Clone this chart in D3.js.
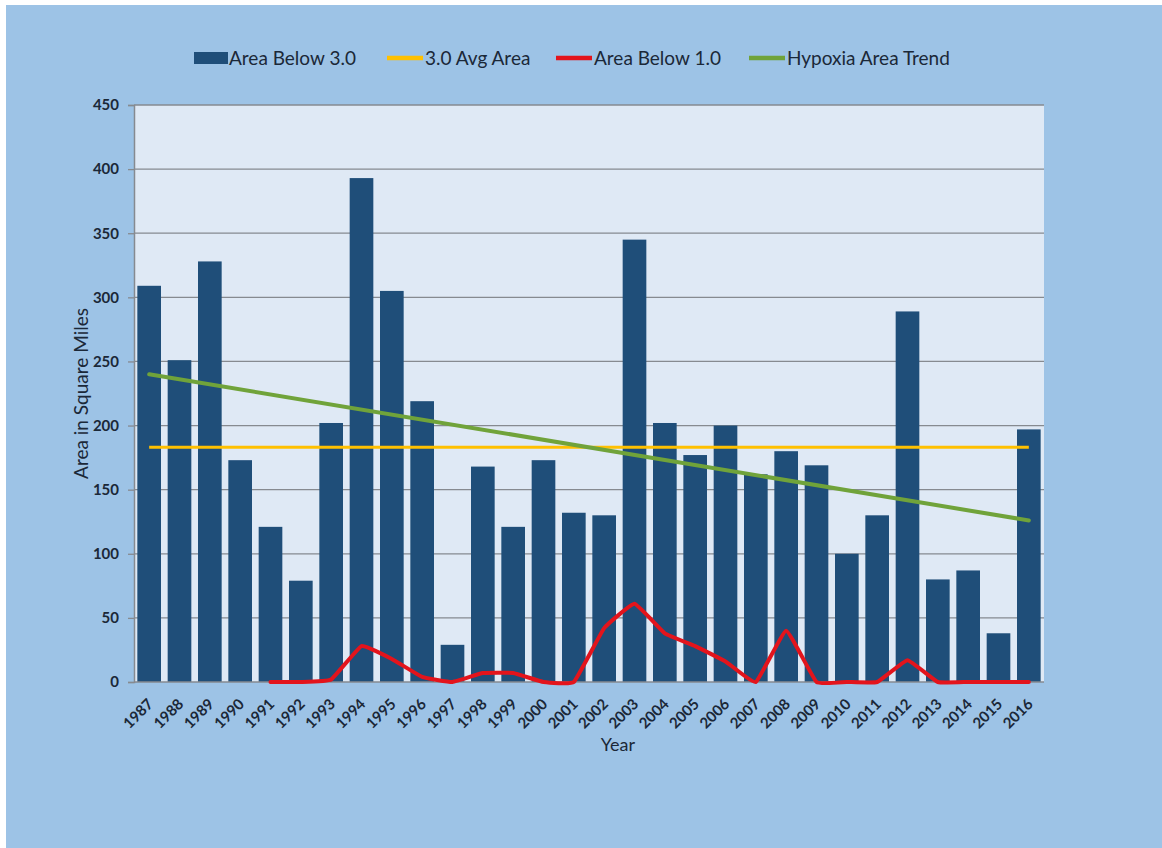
<!DOCTYPE html>
<html>
<head>
<meta charset="utf-8">
<script src="https://cdn.jsdelivr.net/npm/d3@7/dist/d3.min.js"></script>
<style>
  html, body { margin: 0; padding: 0; background: #ffffff; }
  svg { display: block; }
  text { font-family: Lato, "Open Sans", Arial, sans-serif; fill: #1b2838; }
</style>
</head>
<body>
<svg id="chart" width="1162" height="848"></svg>
<script>
// Hypoxia area by year (square miles)
const years = [1987, 1988, 1989, 1990, 1991, 1992, 1993, 1994, 1995, 1996,
               1997, 1998, 1999, 2000, 2001, 2002, 2003, 2004, 2005, 2006,
               2007, 2008, 2009, 2010, 2011, 2012, 2013, 2014, 2015, 2016];
const areaBelow3 = [309, 251, 328, 173, 121, 79, 202, 393, 305, 219,
                    29, 168, 121, 173, 132, 130, 345, 202, 177, 200,
                    162, 180, 169, 100, 130, 289, 80, 87, 38, 197];
// Area below 1.0 is recorded from 1991 onward
const below1Years = [1991, 1992, 1993, 1994, 1995, 1996, 1997, 1998, 1999, 2000,
                     2001, 2002, 2003, 2004, 2005, 2006, 2007, 2008, 2009, 2010,
                     2011, 2012, 2013, 2014, 2015, 2016];
const areaBelow1 = [0, 0, 2, 28, 18, 4, 0, 7, 7, 0,
                    0, 42, 61, 38, 28, 16, 0, 40, 0, 0,
                    0, 17, 0, 0, 0, 0];
const avgArea = 183;
const trendYears = [1987, 2016];
const trendValues = [240, 126];
const yTicks = [0, 50, 100, 150, 200, 250, 300, 350, 400, 450];

const legendItems = [
  { label: "Area Below 3.0", type: "rect", color: "#1f4e79" },
  { label: "3.0 Avg Area", type: "line", color: "#ffc000" },
  { label: "Area Below 1.0", type: "line", color: "#e3141c" },
  { label: "Hypoxia Area Trend", type: "line", color: "#70a33a" }
];

const svg = d3.select("#chart");

// Page background with the thin white margin on top and left
svg.append("rect").attr("x", 6).attr("y", 5).attr("width", 1156).attr("height", 843)
  .attr("fill", "#9dc3e6");

const plot = { left: 134, right: 1044, top: 105, bottom: 682 };

const x = d3.scaleBand().domain(years).range([plot.left, plot.right])
  .paddingInner(0.22).paddingOuter(0.11);
const y = d3.scaleLinear().domain([0, 450]).range([plot.bottom, plot.top]);
const cx = yr => x(yr) + x.bandwidth() / 2;

// Plot area
svg.append("rect").attr("x", plot.left).attr("y", plot.top)
  .attr("width", plot.right - plot.left).attr("height", plot.bottom - plot.top)
  .attr("fill", "#dfe9f5");

// Gridlines
svg.append("g").selectAll("line").data(yTicks.filter(d => d > 0)).join("line")
  .attr("x1", plot.left).attr("x2", plot.right)
  .attr("y1", d => y(d)).attr("y2", d => y(d))
  .attr("stroke", "#868a90").attr("stroke-width", 1.3);

// Bars
svg.append("g").selectAll("rect").data(years).join("rect")
  .attr("x", d => x(d)).attr("width", x.bandwidth())
  .attr("y", (d, i) => y(areaBelow3[i]))
  .attr("height", (d, i) => y(0) - y(areaBelow3[i]))
  .attr("fill", "#1f4e79");

// Y axis
const yAxis = svg.append("g").attr("transform", `translate(${plot.left},0)`)
  .call(d3.axisLeft(y).tickValues(yTicks).tickSize(6).tickPadding(9));
yAxis.select(".domain").attr("stroke", "#868a90").attr("stroke-width", 1.5);
yAxis.selectAll(".tick line").attr("stroke", "#868a90").attr("stroke-width", 1.3);
yAxis.selectAll(".tick text")
  .attr("fill", "#1b2838")
  .style("font-family", "Lato, 'Open Sans', Arial, sans-serif")
  .style("font-weight", "bold").style("font-size", "15px");

// X axis
const xAxis = svg.append("g").attr("transform", `translate(0,${plot.bottom})`)
  .call(d3.axisBottom(x).tickSize(0));
xAxis.select(".domain").attr("stroke", "#868a90").attr("stroke-width", 1.5)
  .attr("d", `M${plot.left},0H${plot.right}`);
xAxis.selectAll(".tick text")
  .attr("fill", "#1b2838")
  .style("font-family", "Lato, 'Open Sans', Arial, sans-serif")
  .style("font-weight", "bold").style("font-size", "15px")
  .attr("text-anchor", "end")
  .attr("x", 0).attr("y", 0).attr("dx", 0).attr("dy", 0)
  .attr("transform", "translate(5,23) rotate(-45)");

// Average line
svg.append("line")
  .attr("x1", cx(years[0])).attr("x2", cx(years[years.length - 1]))
  .attr("y1", y(avgArea)).attr("y2", y(avgArea))
  .attr("stroke", "#ffc000").attr("stroke-width", 3);

// Area below 1.0 (smoothed)
const below1Line = d3.line()
  .x((d, i) => cx(below1Years[i]))
  .y(d => y(d))
  .curve(d3.curveCardinal.tension(0.7));
svg.append("path").datum(areaBelow1)
  .attr("d", below1Line)
  .attr("fill", "none").attr("stroke", "#e3141c").attr("stroke-width", 4)
  .attr("stroke-linejoin", "round").attr("stroke-linecap", "round");

// Trend line
svg.append("line")
  .attr("x1", cx(trendYears[0])).attr("x2", cx(trendYears[1]))
  .attr("y1", y(trendValues[0])).attr("y2", y(trendValues[1]))
  .attr("stroke", "#70a33a").attr("stroke-width", 4).attr("stroke-linecap", "round");

// Axis titles
svg.append("text")
  .attr("transform", `translate(88,${(plot.top + plot.bottom) / 2}) rotate(-90)`)
  .attr("text-anchor", "middle").attr("font-size", 19)
  .text("Area in Square Miles");
svg.append("text")
  .attr("x", 618).attr("y", 751).attr("text-anchor", "middle").attr("font-size", 18)
  .text("Year");

// Legend
const legendMarkX = [194, 387, 556, 749];
const legend = svg.append("g");
legendItems.forEach((item, i) => {
  const g = legend.append("g").attr("transform", `translate(${legendMarkX[i]},58)`);
  if (item.type === "rect") {
    g.append("rect").attr("x", 0).attr("y", -6).attr("width", 34).attr("height", 12)
      .attr("fill", item.color);
    g.append("text").attr("x", 35).attr("y", 6.5).attr("font-size", 19).text(item.label);
  } else {
    g.append("line").attr("x1", 0).attr("x2", 36).attr("y1", 0).attr("y2", 0)
      .attr("stroke", item.color).attr("stroke-width", 4.5);
    g.append("text").attr("x", 38).attr("y", 6.5).attr("font-size", 19).text(item.label);
  }
});
</script>
</body>
</html>
